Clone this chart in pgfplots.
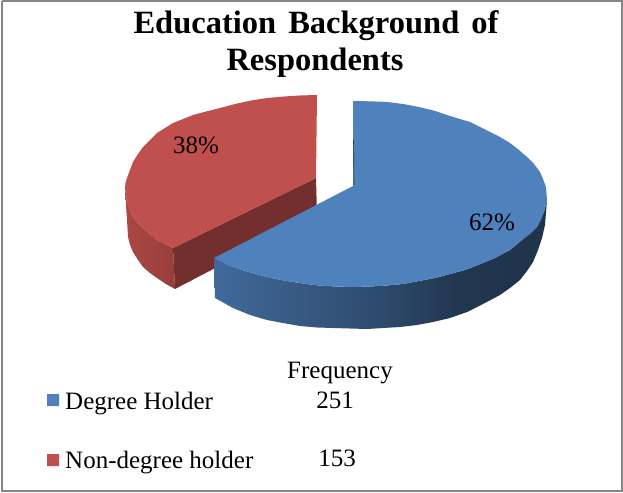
\documentclass[border=0pt]{standalone}
\usepackage{pgfplots}
\pgfplotsset{compat=1.18}
\usepackage{fontspec}
\setmainfont{Liberation Serif}

\definecolor{blueTop}{HTML}{4F81BD}
\definecolor{redTop}{HTML}{C0504D}
\definecolor{redWall}{HTML}{722F2E}
\definecolor{frameGray}{HTML}{868686}

% side walls get lighter towards the left, as in the picture
\pgfdeclarehorizontalshading{blueSide}{100bp}{
  color(0bp)=(blueTop!82!black);
  color(25bp)=(blueTop!82!black);
  color(50bp)=(blueTop!57!black);
  color(62bp)=(blueTop!42!black);
  color(75bp)=(blueTop!40!black);
  color(100bp)=(blueTop!40!black)}
\pgfdeclarehorizontalshading{redSide}{100bp}{
  color(0bp)=(redTop!90!black);
  color(25bp)=(redTop!90!black);
  color(75bp)=(redTop!78!black);
  color(100bp)=(redTop!78!black)}

\begin{document}
\begin{tikzpicture}
\useasboundingbox (0,0) rectangle (623pt,492pt);
\begin{axis}[
    at={(0,0)}, anchor=south west,
    scale only axis,
    width=623pt, height=492pt,
    xmin=0, xmax=623,
    ymin=0, ymax=492,
    y dir=reverse,
    hide axis,
    clip=false,
]

% frame
\addplot[draw=frameGray, line width=2.2pt] coordinates {
    (2,1.3)(622,1.3)(622,491)(2,491)(2,1.3)};

% red slice: outer wall
\addplot[draw=none, shade, shading=redSide] coordinates {
    (125,188)(126,205)(127,220)(128,237)(130,245)(133,252)(138,260)(143,267)
    (150,273)(157,278)(166,284)(175,289)
    (173,248)(165,244)(157,240)(150,234)(143,228)(138,223)(133,217)(130,210)
    (127,203)(126,196)(125,188)};
% red slice: cut wall
\addplot[draw=none, fill=redWall] coordinates {
    (173,248)(175,289)(317,215)(316,178)(173,248)};
% red slice: top
\addplot[draw=none, fill=redTop] coordinates {
    (317,95)(300,95.5)(284,96.5)(267,98)(251,100.5)(235,104)(220,108)(206,111.5)
    (193,115)(183,119)(173,123)(165,128)(157,133)(150,140)(143,147)(138,154)
    (133,162)(130,170)(127,178)(125.5,183)(125,188)(126,196)(127,203)(130,210)
    (133,217)(138,223)(143,228)(150,234)(157,240)(165,244)(173,248)(316,178)(317,95)};

% blue slice: outer wall
\addplot[draw=none, shade, shading=blueSide] coordinates {
    (214,258)(215,298)(224,303)(233,308)(250,315)(267,320)(283,323)(300,326)
    (317,327.5)(333,328)(350,328.5)(367,329)(383,328)(400,327)(417,325)(433,322)
    (450,318)(467,312)(483,304)(500,295)(510,288)(520,280)(527,271)(533,262)
    (538,250)(542,238)(545,225)(547,200)
    (544,212)(537,227)(522,240)(510,250)(495,258)(478,265)(465,270)(450,274)
    (435,278)(419,281)(403,284)(387,285.5)(370,286.5)(353,287)(336,286.5)(319,285.5)
    (303,283.5)(287,281)(271,278)(256,274)(242,270)(228,265)(214,258)};
% blue slice: top
\addplot[draw=none, fill=blueTop] coordinates {
    (353,101)(370,101.3)(387,102)(403,104)(419,107)(435,111)(450,116)(470,122)
    (480,127)(490,132)(500,137)(510,143)(519,150)(527,157)(534,164)(540,172)
    (543,179)(546,187)(547,200)(544,212)(541,220)(537,227)(530,234)(522,240)
    (510,250)(495,258)(478,265)(465,270)(450,274)(435,278)(419,281)(403,284)
    (387,285.5)(370,286.5)(353,287)(336,286.5)(319,285.5)(303,283.5)(287,281)
    (271,278)(256,274)(242,270)(228,265)(214,258)(353,186)(353,101)};
% thin dark edge of the cut
\addplot[draw=blueTop!42!black, line width=0.6pt] coordinates {(353.5,140)(354,185)};

% legend swatches
\addplot[draw=none, fill=blueTop] coordinates {(47,394)(59,394)(59,406)(47,406)(47,394)};
\addplot[draw=none, fill=redTop] coordinates {(47,454)(59,454)(59,466)(47,466)(47,454)};

% title
\node[anchor=base, font=\fontsize{32.5}{32.5}\selectfont\bfseries] at (axis cs:316,34) {Education\hspace{4pt} Background\hspace{4pt} of};
\node[anchor=base, font=\fontsize{32.5}{32.5}\selectfont\bfseries] at (axis cs:315,71) {Respondents};

% data labels
\node[anchor=base, font=\fontsize{25}{25}\selectfont] at (axis cs:196,153) {38\%};
\node[anchor=base, font=\fontsize{25}{25}\selectfont] at (axis cs:492,230) {62\%};

% legend text and table
\node[anchor=base, font=\fontsize{25}{25}\selectfont] at (axis cs:340,378) {Frequency};
\node[anchor=base west, inner xsep=0pt, font=\fontsize{25}{25}\selectfont] at (axis cs:65,409) {Degree Holder};
\node[anchor=base, font=\fontsize{25}{25}\selectfont] at (axis cs:335,408) {251};
\node[anchor=base west, inner xsep=0pt, font=\fontsize{25}{25}\selectfont] at (axis cs:65,468) {Non-degree holder};
\node[anchor=base, font=\fontsize{25}{25}\selectfont] at (axis cs:337,466) {153};

\end{axis}
\end{tikzpicture}
\end{document}
